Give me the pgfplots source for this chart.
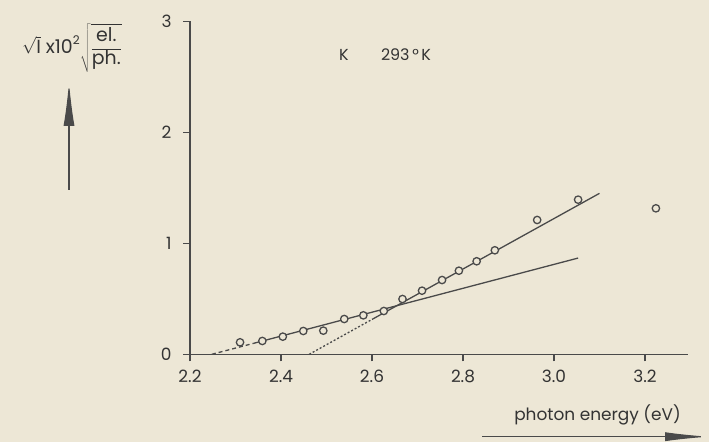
\documentclass[border=0pt]{standalone}
\usepackage{pgfplots}
\pgfplotsset{compat=1.18}
\usepackage{fontspec}
\setmainfont{Poppins}
\usetikzlibrary{arrows.meta}
\definecolor{paper}{HTML}{EDE7D6}
\definecolor{ink}{HTML}{4A4A4A}
\definecolor{txt}{HTML}{333333}
\begin{document}
\begin{tikzpicture}[x=1bp,y=1bp]
\fill[paper] (0,0) rectangle (709,442);
\useasboundingbox (0,0) rectangle (709,442);
\begin{axis}[
  at={(190bp,87.7bp)}, anchor=south west,
  scale only axis, width=498.2bp, height=333bp,
  xmin=2.2, xmax=3.295, ymin=0, ymax=3,
  axis lines*=left,
  axis line style={ink, line width=1.2bp},
  xtick={2.2,2.4,2.6,2.8,3.0,3.2},
  xticklabels={2.2,2.4,2.6,2.8,3.0,3.2},
  ytick={0,1,2,3}, yticklabels={0,1,2,3},
  tick align=outside, major tick length=7bp,
  tick style={ink, line width=1.1bp},
  tick label style={font=\fontsize{17}{20}\selectfont, text=txt},
  xticklabel style={yshift=-5bp},
  yticklabel style={xshift=-8bp},
  clip=false,
]
\addplot[ink, line width=1.3bp, dash pattern=on 4bp off 3bp] coordinates {(2.248,0) (2.34,0.099)};
\addplot[ink, line width=1.3bp] coordinates {(2.34,0.099) (3.053,0.867)};
\addplot[ink, line width=1.3bp, dash pattern=on 2bp off 2bp] coordinates {(2.462,0) (2.60,0.314)};
\addplot[ink, line width=1.3bp] coordinates {(2.60,0.314) (3.100,1.45)};
\addplot[only marks, mark=*, mark size=3.7bp, mark options={draw=ink, fill=paper, line width=1.3bp}] coordinates {
(2.310,0.108) (2.359,0.120) (2.404,0.159) (2.449,0.210) (2.493,0.213)
(2.539,0.318) (2.581,0.351) (2.626,0.390) (2.667,0.498) (2.710,0.573)
(2.754,0.669) (2.791,0.753) (2.830,0.838) (2.870,0.937) (2.963,1.210)
(3.053,1.393) (3.224,1.315)
};
\end{axis}
\node[text=txt, font=\fontsize{19}{22}\selectfont] at (72,394)
  {$\sqrt{\mathrm{I}}\;\mbox{x10}^{\mbox{\fontsize{12}{14}\selectfont 2}}\sqrt{\displaystyle\frac{\mbox{el.}}{\mbox{ph.}}}$};
\draw[ink, line width=1.1bp, -{Latex[length=44bp,width=11bp]}] (69,252) -- (69,360);
\node[text=txt, font=\fontsize{16}{19}\selectfont] at (344,387) {K};
\node[text=txt, font=\fontsize{16}{19}\selectfont] at (406,387) {293\,°\,K};
\node[text=txt, font=\fontsize{17}{20}\selectfont] at (597.5,27) {photon energy (eV)};
\draw[ink, line width=1.1bp, -{Latex[length=44bp,width=9bp]}] (482,5.3) -- (709,5.3);
\end{tikzpicture}
\end{document}
